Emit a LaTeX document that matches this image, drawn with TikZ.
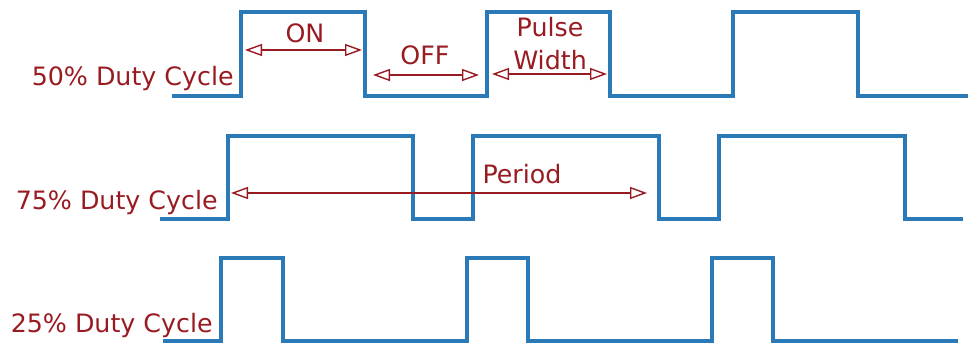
\documentclass[tikz,border=0pt]{standalone}
\usepackage{fontspec}
\setmainfont{DejaVu Sans}
\usetikzlibrary{arrows.meta}
\definecolor{dutyBlue}{HTML}{2A7AB8}
\definecolor{dutyRed}{HTML}{991B22}
\tikzset{
  every node/.style={font=\fontsize{14.4}{17}\selectfont, text=dutyRed, inner sep=0pt},
  wave/.style={draw=dutyBlue, line width=2.55pt, line join=miter},
  dim/.style={{Triangle[open,length=3.4mm,width=2.4mm]}-{Triangle[open,length=3.4mm,width=2.4mm]}, draw=dutyRed, line width=0.8pt},
  rowlabel/.style={anchor=base east},
}
\begin{document}
\begin{tikzpicture}[x=0.02cm,y=-0.02cm]
  \useasboundingbox (0,0) rectangle (969,347);

  % waveforms
  \draw[wave] (172,96) -- (241,96) |- (365,12) |- (487,96) |- (610,12) |- (733,96) |- (858,12) |- (968,96);
  \draw[wave] (160,219) -- (228,219) |- (413,136) |- (473,219) |- (659,136) |- (719,219) |- (905,136) |- (963,219);
  \draw[wave] (163,341) -- (221,341) |- (283,258) |- (467,341) |- (528,258) |- (712,341) |- (773,258) |- (958,341);

  % row labels
  \node[rowlabel] (half) at (234,86) {50\% Duty Cycle};
  \node[rowlabel] (threeq) at (218,210) {75\% Duty Cycle};
  \node[rowlabel] (quarter) at (213,332) {25\% Duty Cycle};

  % measured spans
  \coordinate (onL) at (245,50);
  \coordinate (onR) at (362,50);
  \coordinate (offL) at (373,75);
  \coordinate (offR) at (479,75);
  \coordinate (pwL) at (492,74);
  \coordinate (pwR) at (607,74);
  \coordinate (perL) at (231,193);
  \coordinate (perR) at (647,193);

  \draw[dim] (onL) -- (onR);
  \draw[dim] (offL) -- (offR);
  \draw[dim] (pwL) -- (pwR);
  \draw[dim] (perL) -- (perR);

  \node[anchor=base] (on) at (305,43) {ON};
  \node[anchor=base] (off) at (425,65) {OFF};
  \node[anchor=north, align=center, font=\fontsize{14.4}{18.5}\selectfont] (pw) at (550,17) {Pulse\\Width};
  \node[anchor=base] (per) at (522,184) {Period};
\end{tikzpicture}
\end{document}
